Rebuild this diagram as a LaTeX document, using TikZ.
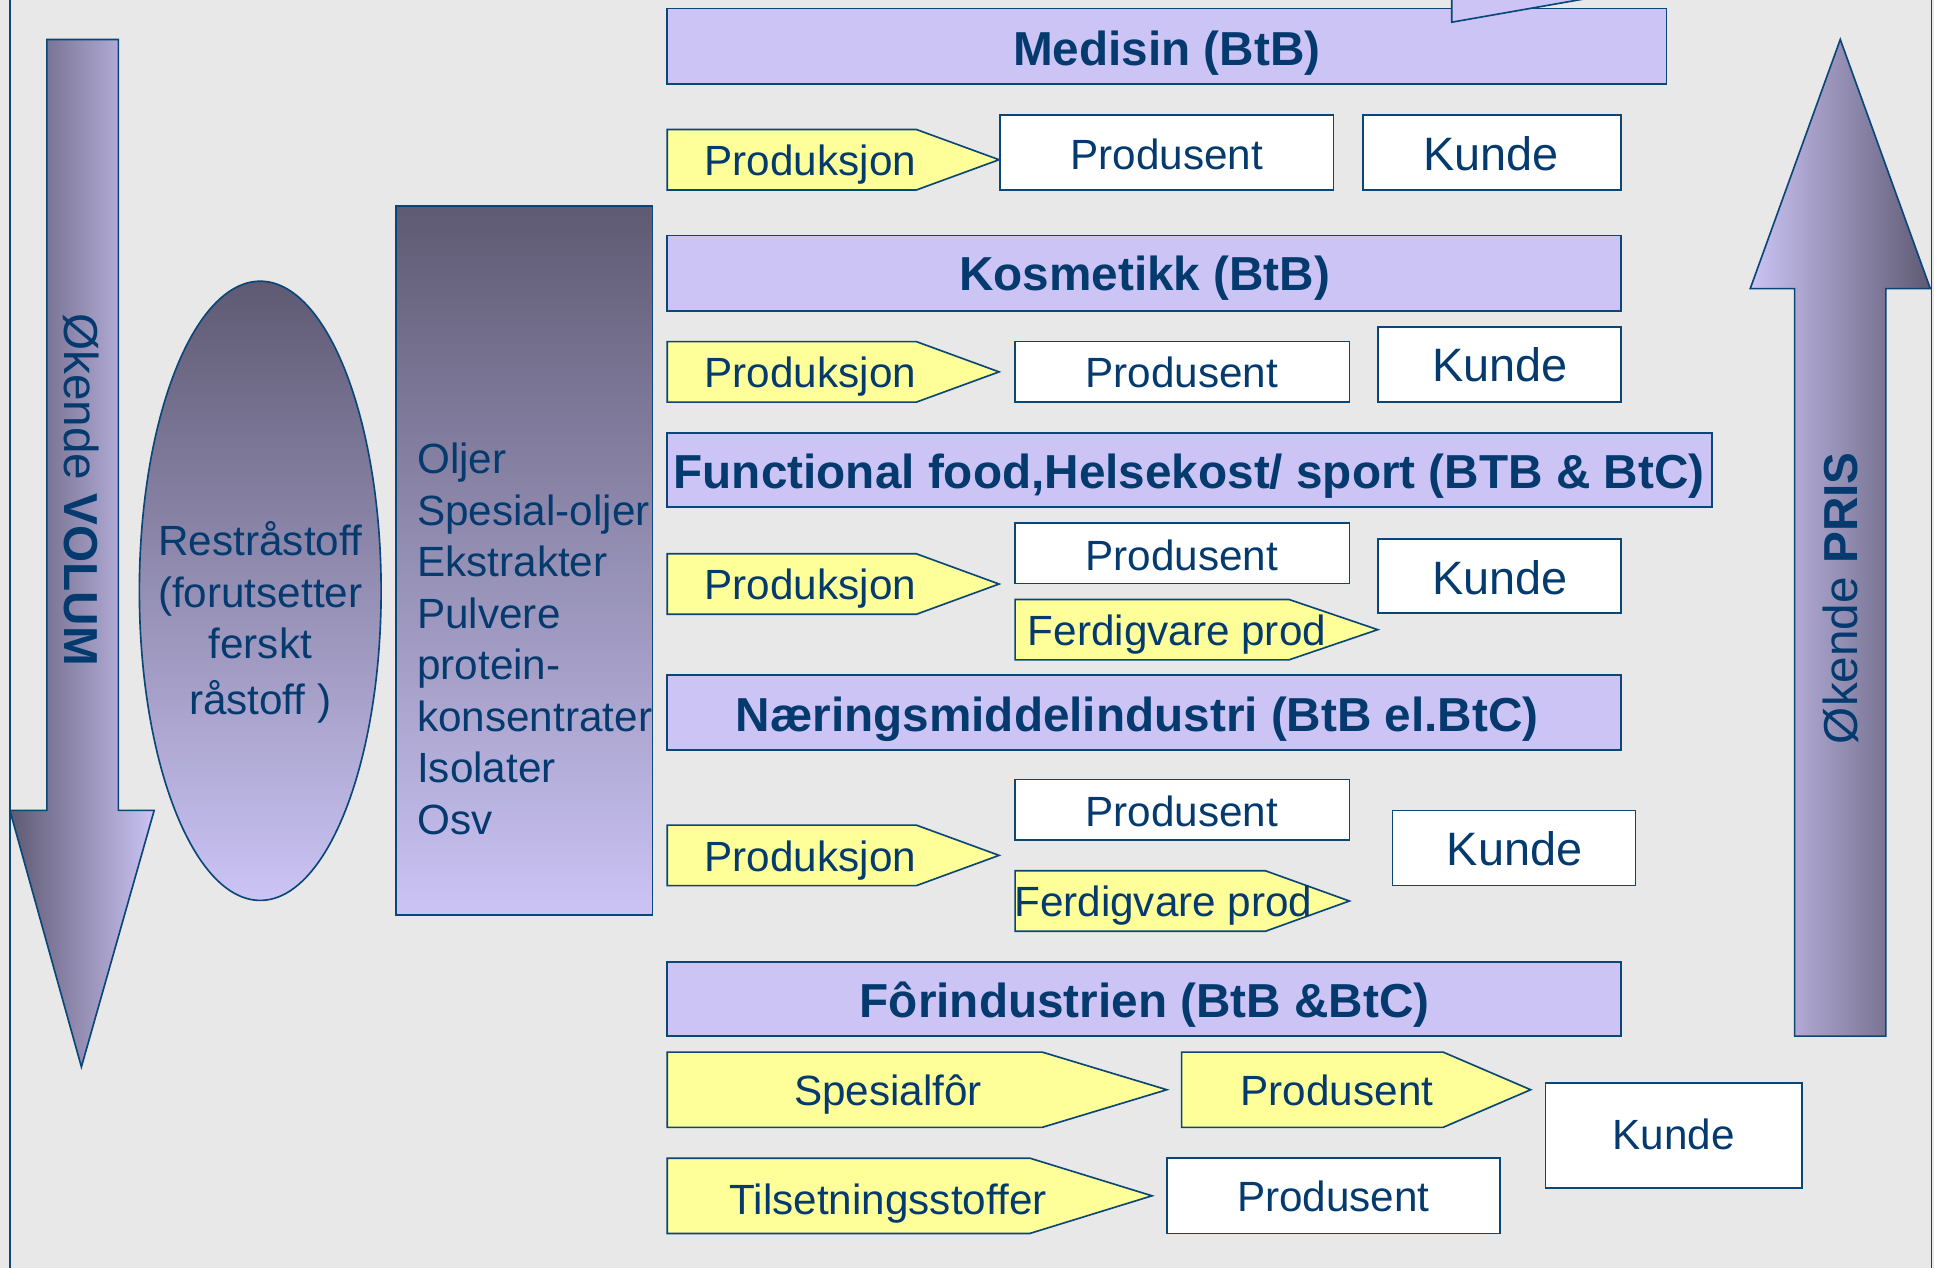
\documentclass[tikz,border=0pt]{standalone}
\usepackage{fontspec}
\setmainfont{Liberation Sans}
\usepackage{tikz}

\definecolor{lav}{RGB}{203,196,245}
\definecolor{gul}{RGB}{255,255,153}
\definecolor{bakgrunn}{RGB}{232,232,232}
\definecolor{navy}{RGB}{4,58,110}
\definecolor{strek}{RGB}{10,70,120}
\definecolor{mork}{RGB}{94,90,115}

\begin{document}
\begin{tikzpicture}[x=0.75pt,y=0.75pt,yscale=-1,xscale=1,
  kant/.style={draw=strek, line width=1pt},
  bar/.style={kant, fill=lav},
  pil/.style={kant, fill=gul},
  boks/.style={kant, fill=white},
  txt/.style={text=navy, inner sep=0pt, text depth=0pt, text height=18.4pt, font=\fontsize{25.7}{30}\selectfont},
  tittel/.style={txt, text height=20.8pt, font=\bfseries\fontsize{29}{34}\selectfont},
  kunde/.style={txt, text height=20.4pt, font=\fontsize{28.5}{34}\selectfont},
  snudd/.style={txt, text height=20.8pt, font=\fontsize{29}{34}\selectfont}]

\useasboundingbox (0,0) rectangle (1568,1028);
\fill[bakgrunn] (0,0) rectangle (1568,1028);
\draw[kant] (8,0) -- (8,1028);
\draw[kant] (1566,0) -- (1566,1028);

%Shape: Down Arrow [volum]
\draw[kant, left color=mork, right color=lav] (38,32) -- (96,32) -- (96,657) -- (125,657) -- (66,865) -- (8,657) -- (38,657) -- cycle;
%Shape: Up Arrow [pris]
\draw[kant, left color=lav, right color=mork] (1455,840) -- (1455,234) -- (1419,234) -- (1492,32) -- (1565,234) -- (1529,234) -- (1529,840) -- cycle;
%Shape: Ellipse
\draw[kant, top color=mork, bottom color=lav] (211,479) ellipse [x radius=98, y radius=251];
%Shape: Rectangle [produkter]
\draw[kant, top color=mork, bottom color=lav] (321,167) rectangle (529,742);

%Shape: Bars
\draw[bar] (541,7) rectangle (1351,68);
\draw[bar] (541,191) rectangle (1314,252);
\draw[bar] (541,351) rectangle (1388,411);
\draw[bar] (541,547) rectangle (1314,608);
\draw[bar] (541,780) rectangle (1314,840);

%Shape: Pentagons
\foreach \y in {105,277,449,669}
  \draw[pil] (541,\y) -- (743,\y) -- (810,\y+24.5) -- (743,\y+49) -- (541,\y+49) -- cycle;
\draw[pil] (823,486) -- (1045,486) -- (1117,510.5) -- (1045,535) -- (823,535) -- cycle;
\draw[pil] (823,706) -- (1026,706) -- (1094,730.5) -- (1026,755) -- (823,755) -- cycle;
\draw[pil] (541,853) -- (845,853) -- (946,883.5) -- (845,914) -- (541,914) -- cycle;
\draw[pil] (958,853) -- (1170,853) -- (1241,883.5) -- (1170,914) -- (958,914) -- cycle;
\draw[pil] (541,939) -- (835,939) -- (934,969.5) -- (835,1000) -- (541,1000) -- cycle;

%Shape: Boxes
\draw[boks] (811,93) rectangle (1081,154);
\draw[boks] (1105,93) rectangle (1314,154);
\draw[boks] (823,277) rectangle (1094,326);
\draw[boks] (1117,265) rectangle (1314,326);
\draw[boks] (823,424) rectangle (1094,473);
\draw[boks] (1117,437) rectangle (1314,497);
\draw[boks] (823,632) rectangle (1094,681);
\draw[boks] (1129,657) rectangle (1326,718);
\draw[boks] (1253,878) rectangle (1461,963);
\draw[boks] (946,939) rectangle (1216,1000);

%Shape: cut arrow at top
\draw[bar] (1177,-5) -- (1177,18) -- (1308,-5);

% Text Node
\node (volum) [snudd, rotate=-90] at (66,397) {Økende \textbf{VOLUM}};
\node (pris) [snudd, rotate=90] at (1492,485) {Økende \textbf{PRIS}};
\node (rest1) [txt] at (211,438) {Restråstoff};
\node (rest2) [txt] at (211,480) {(forutsetter};
\node (rest3) [txt] at (211,522) {ferskt};
\node (rest4) [txt] at (211,567) {råstoff )};
\foreach \t [count=\i from 0] in {Oljer,Spesial-oljer,Ekstrakter,Pulvere,protein-,konsentrater,Isolater,Osv}
  \node (liste\i) [txt, anchor=west] at (338,372+41.7*\i) {\t};

% Text Node
\node (medisin) [tittel] at (946,39) {Medisin (BtB)};
\node (kosmetikk) [tittel] at (928,222) {Kosmetikk (BtB)};
\node (functional) [tittel] at (964,382) {Functional food,Helsekost/ sport (BTB \& BtC)};
\node (naering) [tittel] at (922,579) {Næringsmiddelindustri (BtB el.BtC)};
\node (for) [tittel] at (928,811) {Fôrindustrien (BtB \&BtC)};

% Text Node
\node (prod1) [txt] at (657,130) {Produksjon};
\node (prod2) [txt] at (657,302) {Produksjon};
\node (prod3) [txt] at (657,474) {Produksjon};
\node (prod4) [txt] at (657,694) {Produksjon};
\node (produsent1) [txt] at (946,125) {Produsent};
\node (produsent2) [txt] at (958,302) {Produsent};
\node (produsent3) [txt] at (958,450) {Produsent};
\node (produsent4) [txt] at (958,658) {Produsent};
\node (kunde1) [kunde] at (1209,125) {Kunde};
\node (kunde2) [kunde] at (1216,296) {Kunde};
\node (kunde3) [kunde] at (1216,468) {Kunde};
\node (kunde4) [kunde] at (1228,688) {Kunde};
\node (ferdig3) [txt, anchor=west] at (833,511) {Ferdigvare prod};
\node (ferdig4) [txt, anchor=west] at (822,731) {Ferdigvare prod};

% Text Node
\node (spesialfor) [txt] at (720,884) {Spesialfôr};
\node (produsent5) [txt] at (1084,884) {Produsent};
\node (tilsetning) [txt] at (720,972) {Tilsetningsstoffer};
\node (produsent6) [txt] at (1081,970) {Produsent};
\node (kunde5) [txt] at (1357,920) {Kunde};

\end{tikzpicture}
\end{document}
